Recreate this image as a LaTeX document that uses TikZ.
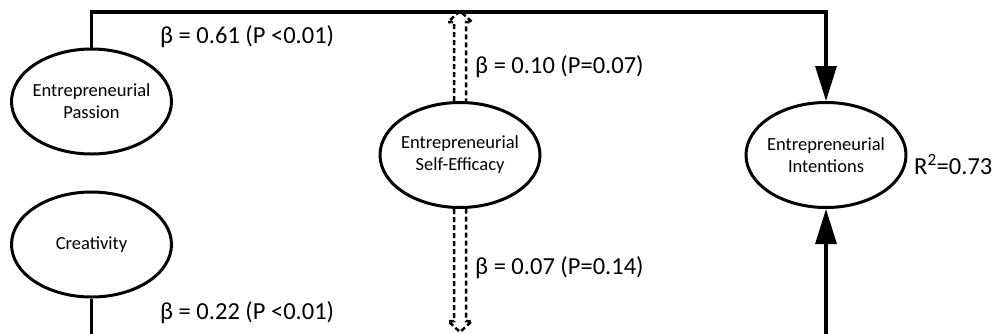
\documentclass[tikz,border=0pt]{standalone}
\usepackage{fontspec}
\setmainfont{Carlito}
\usetikzlibrary{shapes.geometric,arrows.meta}
\tikzset{
  construct/.style={draw,ellipse,line width=3pt,inner xsep=-3pt,inner ysep=0pt,minimum width=160pt,minimum height=105pt,align=center,font=\fontsize{18.5}{22}\selectfont},
  path/.style={line width=3.2pt},
  headed/.style={path,-{Triangle[length=35pt,width=21pt]}},
  backheaded/.style={path,{Triangle[length=35pt,width=21pt]}-},
  weak/.style={line width=2.5pt,dash pattern=on 5pt off 3pt,line join=miter},
  coef/.style={anchor=west,inner sep=0pt,font=\fontsize{24.5}{30}\selectfont}
}

\begin{document}
\begin{tikzpicture}[x=1pt,y=-1pt]
        \useasboundingbox (0,0) rectangle (995,333);

        \node[construct] (EP) at (91.5,101.5) {Entrepreneurial\\Passion};
        \node[construct] (CR) at (91.5,244.5) {Creativity};
        \node[construct] (ESE) at (460,155) {Entrepreneurial\\Self-Efficacy};
        \node[construct] (EI) at (826,155) {Entrepreneurial\\Intentions};

        \coordinate (T) at (826,12);
        \coordinate (U) at (460,11);
        \coordinate (D) at (460,332);
        \coordinate (Z) at (0,334);

        \draw[headed] (EP.north) |- (T) -- (EI.north);
        \draw[path] (CR.south) -- (CR.south |- Z);
        \draw[backheaded] (EI.south) -- (EI.south |- Z);

        \draw[weak] ([xshift=-6pt]ESE.north) -- ([xshift=-6pt,yshift=-11pt]U) -- ([xshift=-12pt,yshift=-11pt]U) -- (U)
              -- ([xshift=12pt,yshift=-11pt]U) -- ([xshift=6pt,yshift=-11pt]U) -- ([xshift=6pt]ESE.north);
        \draw[weak] ([xshift=-6pt]ESE.south) -- ([xshift=-6pt,yshift=11pt]D) -- ([xshift=-12pt,yshift=11pt]D) -- (D)
              -- ([xshift=12pt,yshift=11pt]D) -- ([xshift=6pt,yshift=11pt]D) -- ([xshift=6pt]ESE.south);

        \node[coef] (b1) at (160,37) {β = 0.61 (P <0.01)};
        \node[coef] (b2) at (475,67) {β = 0.10 (P=0.07)};
        \node[coef] (b3) at (475,268) {β = 0.07 (P=0.14)};
        \node[coef] (b4) at (160,313) {β = 0.22 (P <0.01)};
        \node[coef] (r2) at (914,165) {R\textsuperscript{2}=0.73};

    \end{tikzpicture}
\end{document}
